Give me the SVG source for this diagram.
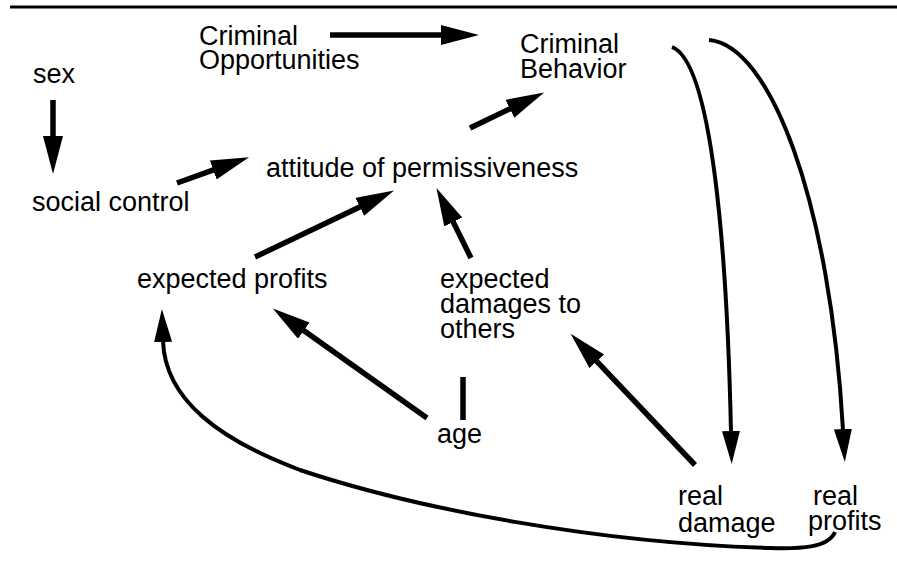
<svg xmlns="http://www.w3.org/2000/svg" width="897" height="563" viewBox="0 0 897 563">
<defs>
<style>
text{font-family:"Liberation Sans",Arial,sans-serif;font-size:27px;fill:#000}
.s{stroke:#000;stroke-width:5.5;fill:none}
.c{stroke:#000;stroke-width:4;fill:none}
</style>
<marker id="ah" markerUnits="userSpaceOnUse" viewBox="0 0 38 20" markerWidth="38" markerHeight="20" refX="1" refY="10" orient="auto"><path d="M0,0 L38,10 L0,20 z" fill="#000"/></marker>
<marker id="ahc" markerUnits="userSpaceOnUse" viewBox="0 0 33 18" markerWidth="33" markerHeight="18" refX="1" refY="9" orient="auto"><path d="M0,0 L33,9 L0,18 z" fill="#000"/></marker>
</defs>
<rect width="897" height="563" fill="#fff"/>
<line x1="10" y1="7" x2="897" y2="7" stroke="#000" stroke-width="3"/>
<g id="connectors">
<line class="s" x1="330" y1="35" x2="442" y2="35" marker-end="url(#ah)"/>
<line class="s" x1="53" y1="100" x2="53" y2="137" marker-end="url(#ah)"/>
<line class="s" x1="177" y1="183" x2="214.2" y2="169.7" marker-end="url(#ah)"/>
<line class="s" x1="470" y1="128" x2="510.8" y2="108.4" marker-end="url(#ah)"/>
<line class="s" x1="255" y1="257" x2="360.7" y2="206.4" marker-end="url(#ah)"/>
<line class="s" x1="471" y1="258" x2="452.8" y2="221.1" marker-end="url(#ah)"/>
<line class="s" x1="427" y1="418" x2="303" y2="330" marker-end="url(#ah)"/>
<line class="s" x1="695" y1="465" x2="596.1" y2="360.6" marker-end="url(#ah)"/>
<line class="s" x1="463" y1="377" x2="463" y2="420"/>
<path class="c" d="M672,47 C712,62 727,250 731,432" marker-end="url(#ahc)"/>
<path class="c" d="M709,40 C770,45 830,200 843,430" marker-end="url(#ahc)"/>
<path class="c" d="M835,532 C828,548 800,549 770,548 C600,543 420,510 300,470 C220,440 165,400 163,341" marker-end="url(#ahc)"/>
</g>
<g id="criminal-opportunities"><text x="199" y="45">Criminal<tspan x="199" dy="24">Opportunities</tspan></text></g>
<g id="criminal-behavior"><text x="520" y="53">Criminal<tspan x="520" dy="25">Behavior</tspan></text></g>
<g id="sex"><text x="33" y="83">sex</text></g>
<g id="social-control"><text x="32" y="211">social control</text></g>
<g id="attitude"><text x="266" y="177">attitude of permissiveness</text></g>
<g id="expected-profits"><text x="137" y="288">expected profits</text></g>
<g id="expected-damages"><text x="440" y="288">expected<tspan x="440" dy="25">damages to</tspan><tspan x="440" dy="25">others</tspan></text></g>
<g id="age"><text x="437" y="443">age</text></g>
<g id="real-damage"><text x="678" y="505">real<tspan x="678" dy="27">damage</tspan></text></g>
<g id="real-profits"><text x="813" y="505">real<tspan x="808" dy="25">profits</tspan></text></g>
</svg>
